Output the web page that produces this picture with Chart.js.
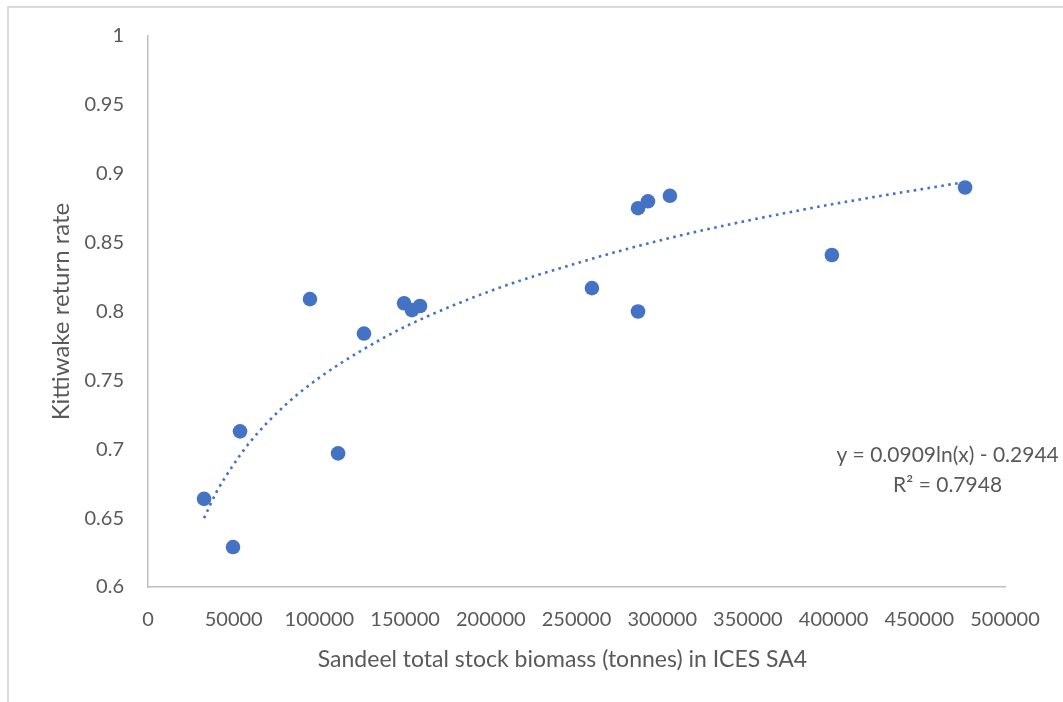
<!DOCTYPE html>
<html>
<head>
<meta charset="utf-8">
<script src="https://cdn.jsdelivr.net/npm/chart.js@4"></script>
<style>
  html, body { margin: 0; padding: 0; background: #ffffff; }
  body { width: 1063px; height: 702px; position: relative; overflow: hidden; }
  #frame { position: absolute; left: 7px; top: 6px; width: 1100px; height: 750px;
           border-left: 2px solid #d9d9d9; border-top: 2px solid #d9d9d9; }
  #wrap { position: absolute; left: 0; top: 0; width: 1063px; height: 702px; }
</style>
</head>
<body>
<div id="frame"></div>
<div id="wrap"><canvas id="c" width="1063" height="702"></canvas></div>
<script>
// Observed data: sandeel biomass (tonnes) vs kittiwake return rate
const biomass = [32700, 49600, 53700, 94500, 110900, 126000, 149400, 154000, 158700,
                 259000, 285900, 285900, 291700, 304500, 399000, 476700];
const returnRate = [0.664, 0.629, 0.713, 0.809, 0.697, 0.784, 0.806, 0.801, 0.804,
                    0.817, 0.875, 0.800, 0.880, 0.884, 0.841, 0.890];

// Logarithmic trendline
const trendX = [32700, 40000, 50000, 60000, 80000, 100000, 125000, 150000,
                200000, 250000, 300000, 350000, 400000, 476700];
const trendY = [0.650, 0.669, 0.689, 0.706, 0.732, 0.752, 0.772, 0.789,
                0.815, 0.835, 0.852, 0.866, 0.878, 0.894];

const xTicks = [0, 50000, 100000, 150000, 200000, 250000, 300000, 350000, 400000, 450000, 500000];
const yTicks = [0.6, 0.65, 0.7, 0.75, 0.8, 0.85, 0.9, 0.95, 1];
const yTickLabels = ['0.6', '0.65', '0.7', '0.75', '0.8', '0.85', '0.9', '0.95', '1'];

const equationLines = ['y = 0.0909ln(x) - 0.2944', 'R² = 0.7948'];
const equationAnchor = [466500, 0.696]; // data-space anchor of the label

const xTitle = 'Sandeel total stock biomass (tonnes) in ICES SA4';
const yTitle = 'Kittiwake return rate';

const TEXT = '#595959';
const BLUE = '#4472C4';
const AXIS = '#bfbfbf';
const FONT = 'Lato, "Open Sans", sans-serif';

const points = biomass.map((x, i) => ({ x: x, y: returnRate[i] }));
const trend = trendX.map((x, i) => ({ x: x, y: trendY[i] }));

const textPlugin = {
  id: 'texts',
  afterDatasetsDraw(chart) {
    const { ctx, scales, chartArea } = chart;
    const cx = scales.x.getPixelForValue(equationAnchor[0]);
    const cy = scales.y.getPixelForValue(equationAnchor[1]);
    ctx.save();
    ctx.fillStyle = TEXT;
    ctx.font = '21px ' + FONT;
    ctx.textAlign = 'center';
    ctx.textBaseline = 'middle';
    equationLines.forEach((t, i) => ctx.fillText(t, cx, cy + i * 30));
    // x-axis title (slightly left of the plot centre, as in the original)
    ctx.font = '23px ' + FONT;
    ctx.fillText(xTitle, (chartArea.left + chartArea.right) / 2 - 14, chartArea.bottom + 73);
    ctx.restore();
  }
};

new Chart(document.getElementById('c'), {
  type: 'scatter',
  data: {
    datasets: [
      {
        label: 'Trendline',
        type: 'line',
        data: trend,
        borderColor: BLUE,
        borderWidth: 2.6,
        borderDash: [2.6, 4.4],
        pointRadius: 0,
        fill: false,
        cubicInterpolationMode: 'monotone',
        order: 2
      },
      {
        label: 'Return rate',
        data: points,
        backgroundColor: BLUE,
        borderColor: BLUE,
        pointRadius: 7.3,
        pointHoverRadius: 7.3,
        borderWidth: 0,
        order: 1
      }
    ]
  },
  options: {
    responsive: false,
    animation: false,
    events: [],
    layout: { padding: { left: 0, top: 35, right: 58, bottom: 0 } },
    plugins: { legend: { display: false }, tooltip: { enabled: false } },
    scales: {
      x: {
        type: 'linear',
        min: 0, max: 500000,
        afterBuildTicks: (s) => { s.ticks = xTicks.map(v => ({ value: v })); },
        afterFit: (s) => { s.height = 115; },
        grid: { display: true, drawOnChartArea: false, drawTicks: false, color: 'transparent' },
        border: { display: true, color: AXIS, width: 1.5 },
        ticks: { color: TEXT, font: { family: FONT, size: 20 }, padding: 21, maxRotation: 0,
                 autoSkip: false, callback: (v) => String(v) },
        title: { display: false, text: xTitle }
      },
      y: {
        type: 'linear',
        min: 0.6, max: 1,
        afterBuildTicks: (s) => { s.ticks = yTicks.map(v => ({ value: v })); },
        afterFit: (s) => { s.width = 148; },
        grid: { display: true, drawOnChartArea: false, drawTicks: false, color: 'transparent' },
        border: { display: true, color: AXIS, width: 1.5 },
        ticks: { color: TEXT, font: { family: FONT, size: 20 }, padding: 24,
                 callback: (v) => yTickLabels[yTicks.findIndex(t => Math.abs(t - v) < 1e-9)] },
        title: { display: true, text: yTitle, color: TEXT, font: { family: FONT, size: 24 },
                 padding: { top: 47, bottom: 0 } }
      }
    }
  },
  plugins: [textPlugin]
});
</script>
</body>
</html>
